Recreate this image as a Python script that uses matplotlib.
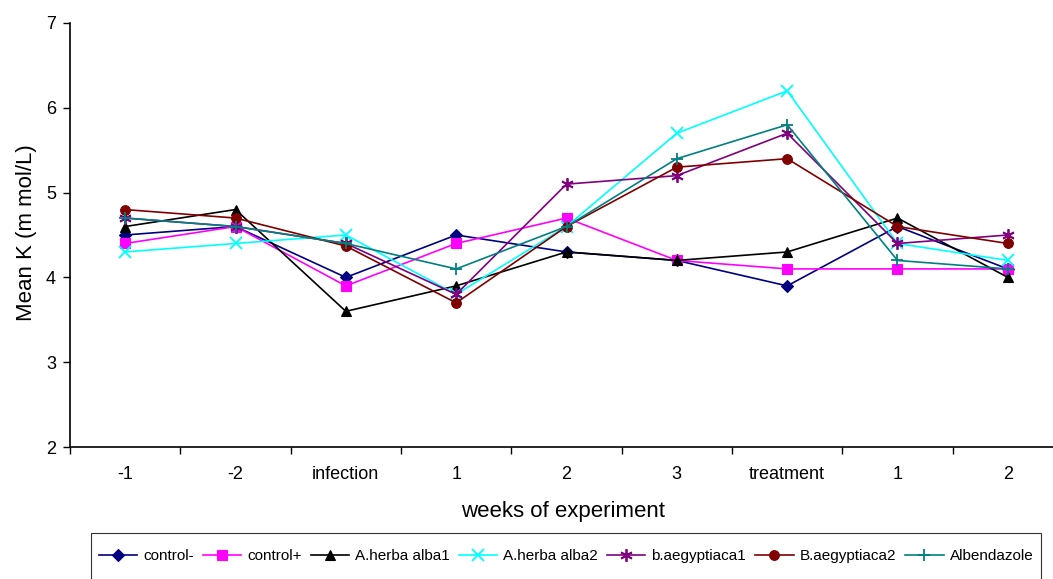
import matplotlib
matplotlib.use("Agg")
import matplotlib.pyplot as plt
from matplotlib.patches import Rectangle
from matplotlib.ticker import FixedLocator

plt.rcParams['font.family'] = ['Liberation Sans', 'DejaVu Sans']

categories = ["-1", "-2", "infection", "1", "2", "3", "treatment", "1", "2"]

control_minus = [4.5, 4.6, 4.0, 4.5, 4.3, 4.2, 3.9, 4.6, 4.1]
control_plus = [4.4, 4.6, 3.9, 4.4, 4.7, 4.2, 4.1, 4.1, 4.1]
a_herba_alba1 = [4.6, 4.8, 3.6, 3.9, 4.3, 4.2, 4.3, 4.7, 4.0]
a_herba_alba2 = [4.3, 4.4, 4.5, 3.8, 4.6, 5.7, 6.2, 4.4, 4.2]
b_aegyptiaca1 = [4.7, 4.6, 4.4, 3.8, 5.1, 5.2, 5.7, 4.4, 4.5]
b_aegyptiaca2 = [4.8, 4.7, 4.37, 3.7, 4.6, 5.3, 5.4, 4.6, 4.4]
albendazole = [4.7, 4.6, 4.4, 4.1, 4.6, 5.4, 5.8, 4.2, 4.1]

series_names = ["control-", "control+", "A.herba alba1", "A.herba alba2",
                "b.aegyptiaca1", "B.aegyptiaca2", "Albendazole"]
series_values = [control_minus, control_plus, a_herba_alba1, a_herba_alba2,
                 b_aegyptiaca1, b_aegyptiaca2, albendazole]
colors = ["#000080", "#FF00FF", "#000000", "#00FFFF", "#800080", "#800000", "#008080"]
markers = ["D", "s", "^", "x", (6, 2, 0), "o", "+"]
msizes = [6, 7, 7, 8, 9, 7, 9]

W, H = 1053, 579
fig = plt.figure(figsize=(W / 100, H / 100), dpi=100)
left, right, top, bottom = 70, 1063, 23, 447
ax = fig.add_axes([left / W, 1 - bottom / H, (right - left) / W, (bottom - top) / H])

x = list(range(len(categories)))
handles = []
for name, vals, c, m, ms in zip(series_names, series_values, colors, markers, msizes):
    h, = ax.plot(x, vals, color=c, marker=m, markersize=ms, linewidth=1.2,
                 markeredgewidth=1.3 if m in ("x", "+") or isinstance(m, tuple) else 0.8,
                 markerfacecolor=c, markeredgecolor=c, label=name, clip_on=False)
    handles.append(h)

ax.set_xlim(-0.5, len(categories) - 0.5)
ax.set_ylim(2, 7)
ax.set_yticks([2, 3, 4, 5, 6, 7])
ax.set_xticks(x)
ax.set_xticklabels(categories)
ax.xaxis.set_minor_locator(FixedLocator([i - 0.5 for i in range(len(categories) + 1)]))
ax.tick_params(axis='x', which='major', length=0, pad=14, labelsize=13)
ax.tick_params(axis='x', which='minor', length=5, width=1, direction='out')
ax.tick_params(axis='y', length=5, width=1, direction='out', pad=5, labelsize=13)
for s in ("top", "right"):
    ax.spines[s].set_visible(False)
for s in ("left", "bottom"):
    ax.spines[s].set_linewidth(1.2)

fig.text(563 / W, 1 - 512 / H, "weeks of experiment", ha='center', va='center', fontsize=16)
fig.text(27 / W, 1 - 233 / H, "Mean K (m mol/L)", ha='center', va='center',
         rotation=90, fontsize=16)

rect = Rectangle((91 / W, 1 - 600 / H), (1041 - 91) / W, (600 - 533) / H,
                 transform=fig.transFigure, fill=False, edgecolor='#333333',
                 linewidth=0.8, clip_on=False)
fig.patches.append(rect)

leg = fig.legend(handles=handles, loc='center', ncol=7,
                 bbox_to_anchor=(566 / W, 1 - 556 / H), frameon=False,
                 fontsize=11, handlelength=2.5, handletextpad=0.4,
                 columnspacing=0.6, borderpad=0)

fig.savefig("out.png", dpi=100)
